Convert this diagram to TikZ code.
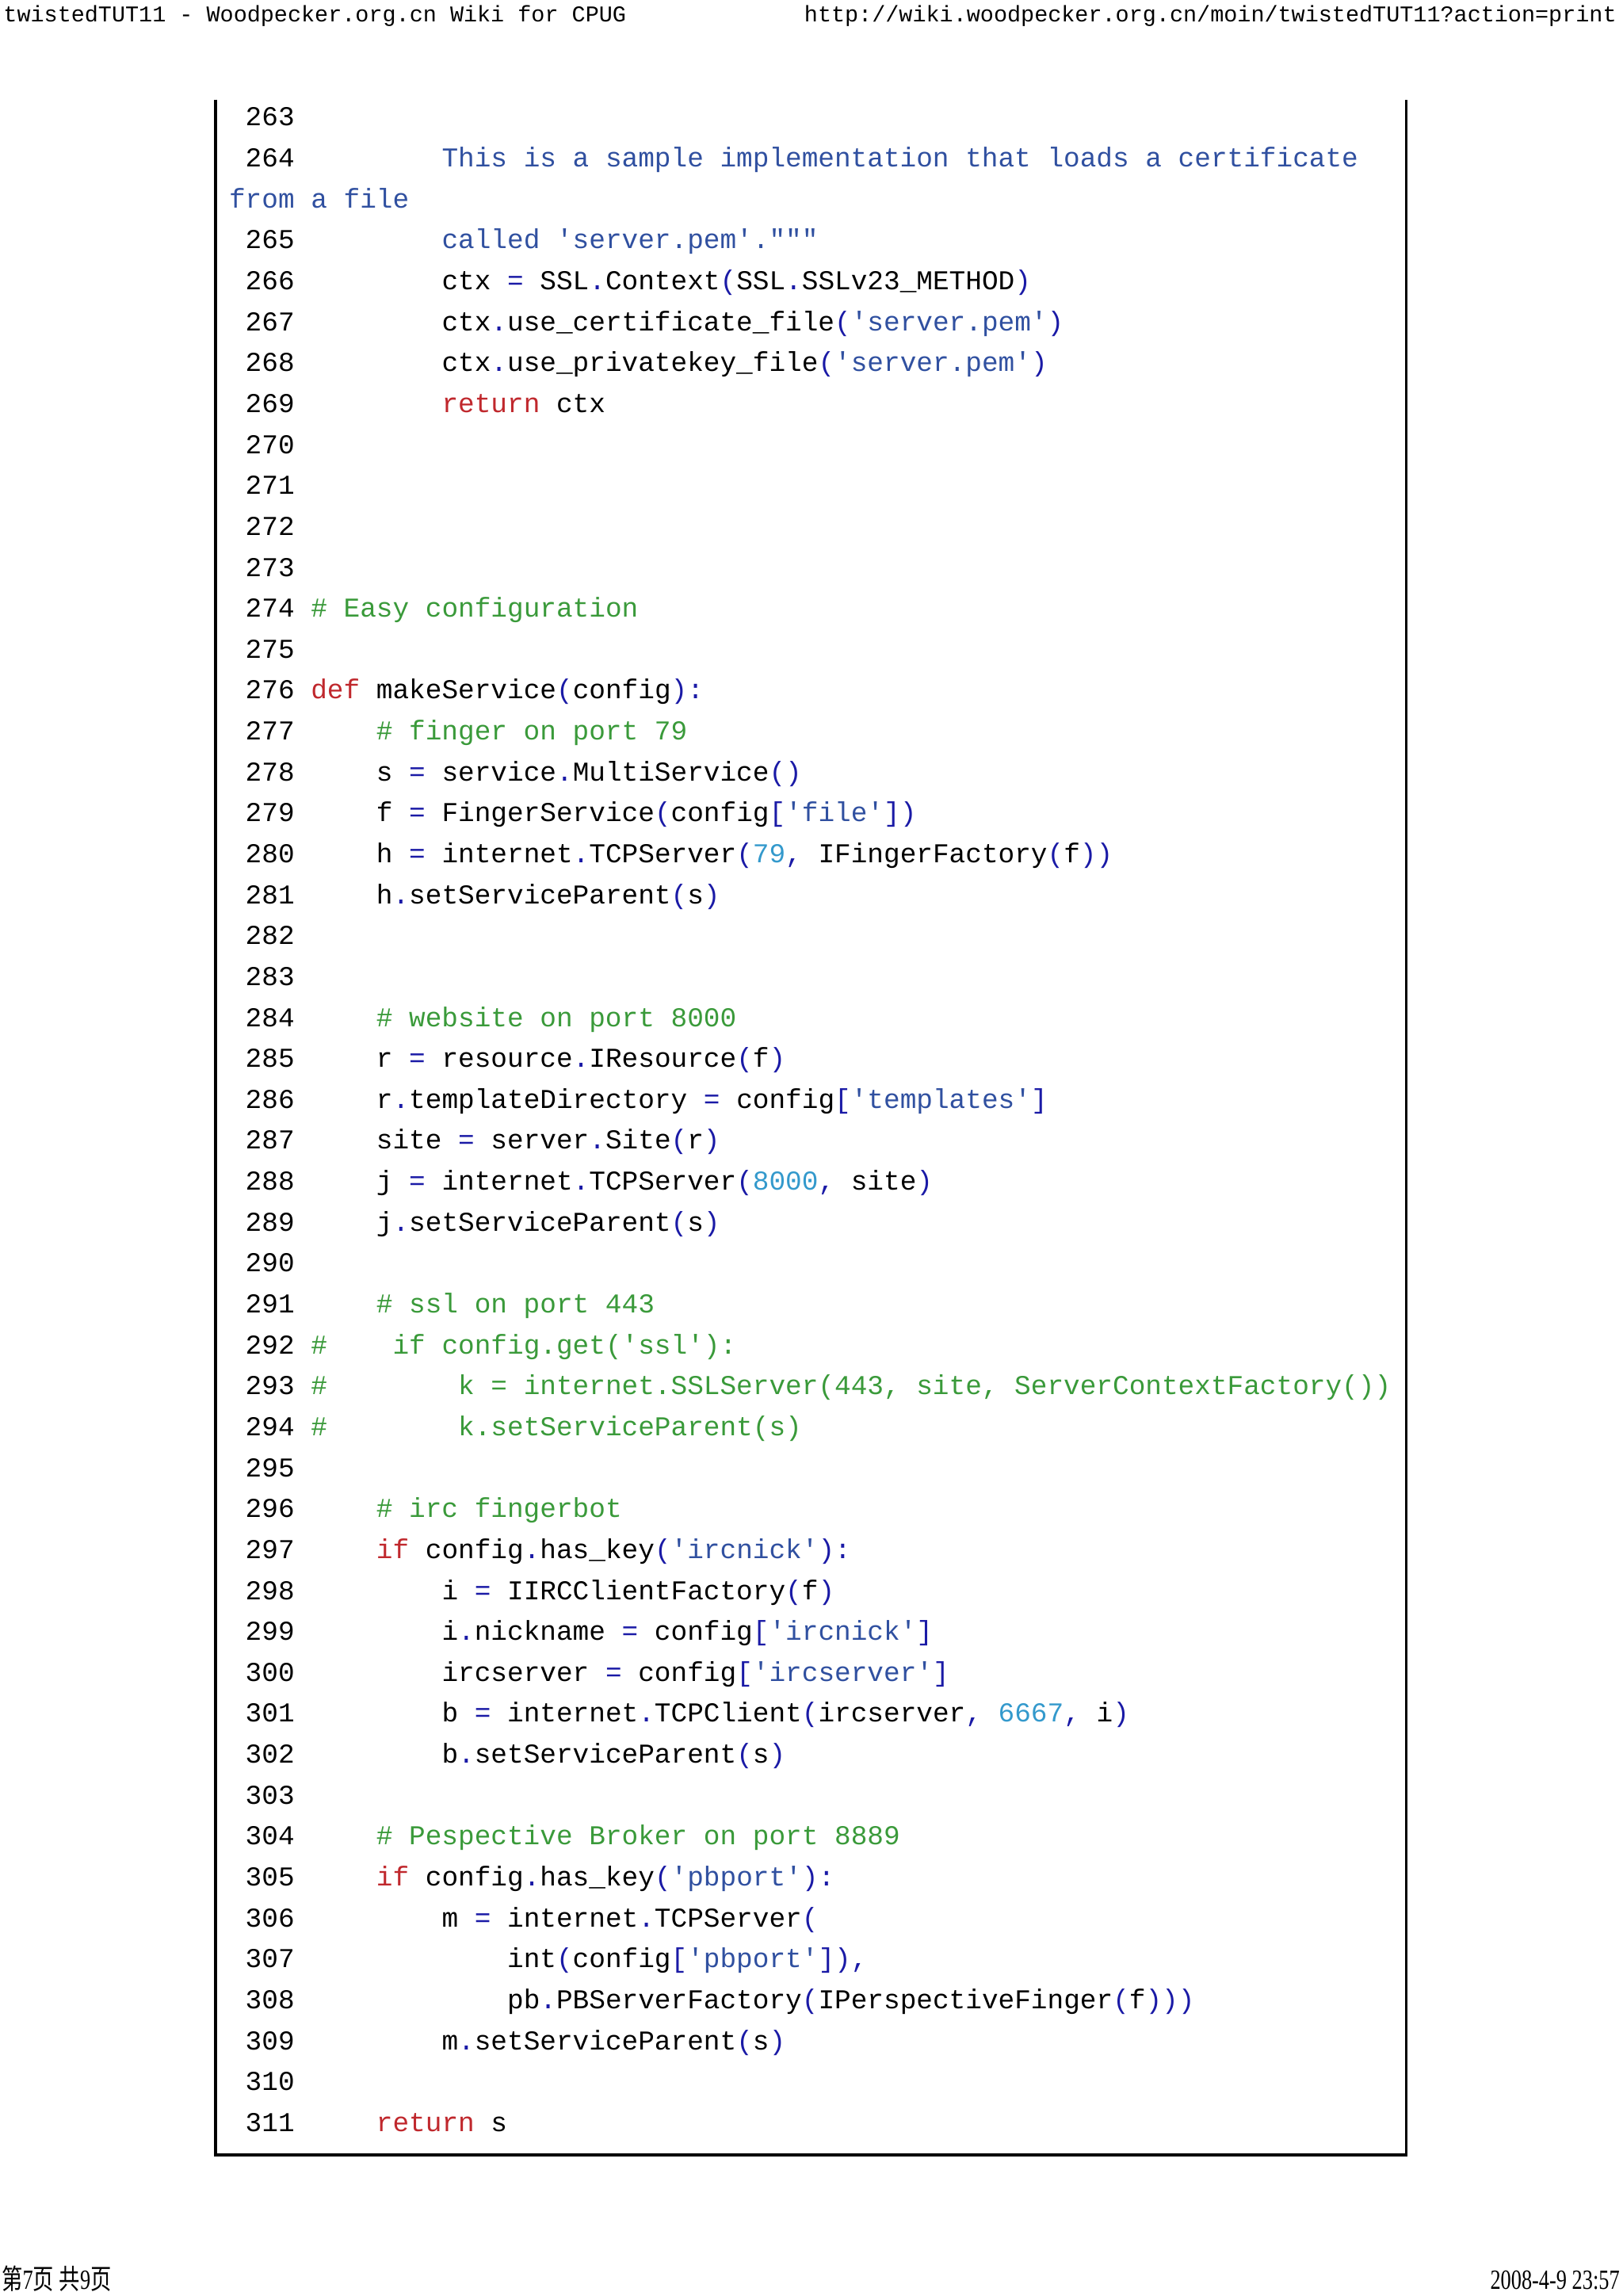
\documentclass[tikz,border=0pt]{standalone}
\usepackage{fontspec}
\usepackage{xcolor}
\setmonofont{Liberation Mono}
\newfontfamily\hdfont{Liberation Mono}
\newfontfamily\ftfont{Liberation Serif}
\newfontfamily\cjk{Noto Sans CJK SC}
\definecolor{opc}{HTML}{1A1AA6}
\definecolor{stc}{HTML}{3050A0}
\definecolor{cmc}{HTML}{3A9A3A}
\definecolor{kwc}{HTML}{C0282D}
\definecolor{nmc}{HTML}{3399CC}
\newcommand\OP[1]{\textcolor{opc}{#1}}
\newcommand\ST[1]{\textcolor{stc}{#1}}
\newcommand\CM[1]{\textcolor{cmc}{#1}}
\newcommand\KW[1]{\textcolor{kwc}{#1}}
\newcommand\NM[1]{\textcolor{nmc}{#1}}
\newlength\cw \setlength\cw{5.586pt}
\tikzset{code/.style={anchor=base west,inner sep=0pt,font={\fontsize{9.31}{11}\ttfamily\spaceskip=\cw\xspaceskip=\cw},text=black}}
\newcommand\Ln[4]{\node[code] (r#1) at (156,{86+#1*27.94}) {\ #2\ \hspace*{#3\cw}#4};}
\begin{document}
\begin{tikzpicture}[x=0.5pt,y=-0.5pt]
\useasboundingbox (0,0) rectangle (1108,1567.4);
\fill[white] (0,0) rectangle (1108,1567.4);
\node[anchor=base west,inner sep=0pt,font=\fontsize{7.7}{9}\hdfont] (hl) at (2,15) {twistedTUT11 - Woodpecker.org.cn Wiki for CPUG};
\node[anchor=base east,inner sep=0pt,font=\fontsize{7.7}{9}\hdfont] (hr) at (1104,15) {http://wiki.woodpecker.org.cn/moin/twistedTUT11?action=print};
\node[anchor=base west,inner sep=0pt,xscale=0.75,font=\fontsize{9.5}{11}\ftfont] (fl) at (1,1563) {{\cjk 第}7{\cjk 页} {\cjk 共}9{\cjk 页}};
\node[anchor=base east,inner sep=0pt,xscale=0.75,font=\fontsize{9.5}{11}\ftfont] (fr) at (1106,1563) {2008-4-9 23:57};
\draw[line width=1pt] (147,68) -- (147,1471) -- (960,1471) -- (960,68);
\Ln{0}{263}{0}{}
\Ln{1}{264}{8}{\ST{This is a sample implementation that loads a certificate}}
\node[code] (r2) at (156,{86+2*27.94}) {\ST{from a file}};
\Ln{3}{265}{8}{\ST{called 'server.pem'."""}}
\Ln{4}{266}{8}{ctx \OP{=} SSL\OP{.}Context\OP{(}SSL\OP{.}SSLv23\_METHOD\OP{)}}
\Ln{5}{267}{8}{ctx\OP{.}use\_certificate\_file\OP{(}\ST{'server.pem'}\OP{)}}
\Ln{6}{268}{8}{ctx\OP{.}use\_privatekey\_file\OP{(}\ST{'server.pem'}\OP{)}}
\Ln{7}{269}{8}{\KW{return} ctx}
\Ln{8}{270}{0}{}
\Ln{9}{271}{0}{}
\Ln{10}{272}{0}{}
\Ln{11}{273}{0}{}
\Ln{12}{274}{0}{\CM{\# Easy configuration}}
\Ln{13}{275}{0}{}
\Ln{14}{276}{0}{\KW{def} makeService\OP{(}config\OP{):}}
\Ln{15}{277}{4}{\CM{\# finger on port 79}}
\Ln{16}{278}{4}{s \OP{=} service\OP{.}MultiService\OP{()}}
\Ln{17}{279}{4}{f \OP{=} FingerService\OP{(}config\OP{[}\ST{'file'}\OP{])}}
\Ln{18}{280}{4}{h \OP{=} internet\OP{.}TCPServer\OP{(}\NM{79}\OP{,} IFingerFactory\OP{(}f\OP{))}}
\Ln{19}{281}{4}{h\OP{.}setServiceParent\OP{(}s\OP{)}}
\Ln{20}{282}{0}{}
\Ln{21}{283}{0}{}
\Ln{22}{284}{4}{\CM{\# website on port 8000}}
\Ln{23}{285}{4}{r \OP{=} resource\OP{.}IResource\OP{(}f\OP{)}}
\Ln{24}{286}{4}{r\OP{.}templateDirectory \OP{=} config\OP{[}\ST{'templates'}\OP{]}}
\Ln{25}{287}{4}{site \OP{=} server\OP{.}Site\OP{(}r\OP{)}}
\Ln{26}{288}{4}{j \OP{=} internet\OP{.}TCPServer\OP{(}\NM{8000}\OP{,} site\OP{)}}
\Ln{27}{289}{4}{j\OP{.}setServiceParent\OP{(}s\OP{)}}
\Ln{28}{290}{0}{}
\Ln{29}{291}{4}{\CM{\# ssl on port 443}}
\Ln{30}{292}{0}{\CM{\#\hspace*{4\cw}if config.get('ssl'):}}
\Ln{31}{293}{0}{\CM{\#\hspace*{8\cw}k = internet.SSLServer(443, site, ServerContextFactory())}}
\Ln{32}{294}{0}{\CM{\#\hspace*{8\cw}k.setServiceParent(s)}}
\Ln{33}{295}{0}{}
\Ln{34}{296}{4}{\CM{\# irc fingerbot}}
\Ln{35}{297}{4}{\KW{if} config\OP{.}has\_key\OP{(}\ST{'ircnick'}\OP{):}}
\Ln{36}{298}{8}{i \OP{=} IIRCClientFactory\OP{(}f\OP{)}}
\Ln{37}{299}{8}{i\OP{.}nickname \OP{=} config\OP{[}\ST{'ircnick'}\OP{]}}
\Ln{38}{300}{8}{ircserver \OP{=} config\OP{[}\ST{'ircserver'}\OP{]}}
\Ln{39}{301}{8}{b \OP{=} internet\OP{.}TCPClient\OP{(}ircserver\OP{,} \NM{6667}\OP{,} i\OP{)}}
\Ln{40}{302}{8}{b\OP{.}setServiceParent\OP{(}s\OP{)}}
\Ln{41}{303}{0}{}
\Ln{42}{304}{4}{\CM{\# Pespective Broker on port 8889}}
\Ln{43}{305}{4}{\KW{if} config\OP{.}has\_key\OP{(}\ST{'pbport'}\OP{):}}
\Ln{44}{306}{8}{m \OP{=} internet\OP{.}TCPServer\OP{(}}
\Ln{45}{307}{12}{int\OP{(}config\OP{[}\ST{'pbport'}\OP{]),}}
\Ln{46}{308}{12}{pb\OP{.}PBServerFactory\OP{(}IPerspectiveFinger\OP{(}f\OP{)))}}
\Ln{47}{309}{8}{m\OP{.}setServiceParent\OP{(}s\OP{)}}
\Ln{48}{310}{0}{}
\Ln{49}{311}{4}{\KW{return} s}
\end{tikzpicture}
\end{document}
